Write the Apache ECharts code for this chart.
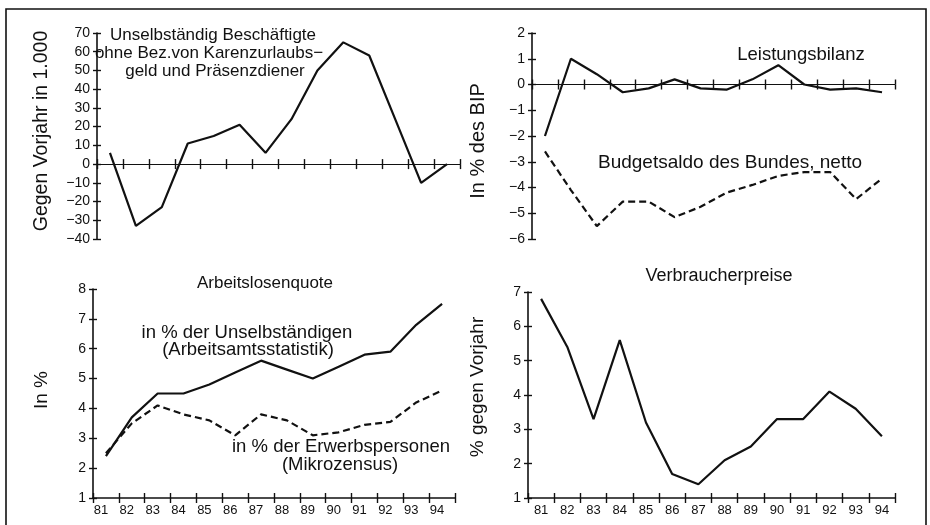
<!DOCTYPE html>
<html>
<head>
<meta charset="utf-8">
<script src="https://cdn.jsdelivr.net/npm/echarts@6/dist/echarts.min.js"></script>
<style>
  html, body { margin: 0; padding: 0; background: #fff; }
  #chart { width: 930px; height: 525px; }
</style>
</head>
<body>
<div id="chart"></div>
<script>
var years = ['81', '82', '83', '84', '85', '86', '87', '88', '89', '90', '91', '92', '93', '94'];

// Unselbständig Beschäftigte, gegen Vorjahr in 1.000
var beschaeftigte = [6, -33, -23, 11, 15, 21, 6, 24, 50, 65, 58, 24, -10, 0];

// in % des BIP
var leistungsbilanz = [-2.0, 1.0, 0.4, -0.3, -0.15, 0.2, -0.15, -0.2, 0.2, 0.75, 0.0, -0.2, -0.15, -0.3];
var budgetsaldo = [-2.6, -4.1, -5.5, -4.55, -4.55, -5.15, -4.75, -4.2, -3.9, -3.55, -3.4, -3.4, -4.45, -3.65];

// Arbeitslosenquote in %
var quoteUnselbst = [2.4, 3.7, 4.5, 4.5, 4.8, 5.2, 5.6, 5.3, 5.0, 5.4, 5.8, 5.9, 6.8, 7.5];
var quoteErwerb = [2.5, 3.5, 4.1, 3.8, 3.6, 3.1, 3.8, 3.6, 3.1, 3.2, 3.45, 3.55, 4.2, 4.6];

// Verbraucherpreise, % gegen Vorjahr
var verbraucherpreise = [6.8, 5.4, 3.3, 5.6, 3.2, 1.7, 1.4, 2.1, 2.5, 3.3, 3.3, 4.1, 3.6, 2.8];

var font = 'Liberation Sans';
var ink = '#111';

var chart = echarts.init(document.getElementById('chart'));

var grids = [
    { left: 97, top: 33, width: 363, height: 206 },
    { left: 532, top: 33, width: 363, height: 206 },
    { left: 93, top: 289, width: 362, height: 209 },
    { left: 528, top: 292, width: 367, height: 206 }
];

var yRanges = [
    { min: -40, max: 70, interval: 10 },
    { min: -6, max: 2, interval: 1 },
    { min: 1, max: 8, interval: 1 },
    { min: 1, max: 7, interval: 1 }
];

function minus(v) {
    return String(v).replace('-', '\u2212');
}

var xAxes = [];
var yAxes = [];
grids.forEach(function (g, i) {
    var showLabels = i >= 2;
    [false, true].forEach(function (inside, k) {
        xAxes.push({
            type: 'category',
            gridIndex: i,
            position: 'bottom',
            data: years,
            boundaryGap: true,
            axisLine: { show: k === 0, onZero: true, lineStyle: { color: ink, width: i < 2 ? 1.2 : 1.6 } },
            axisTick: { show: true, inside: inside, length: 5, interval: 0, lineStyle: { color: ink, width: 1.4 } },
            axisLabel: {
                show: showLabels && k === 0, interval: 0, color: ink, fontFamily: font, fontSize: 13, margin: 6,
                padding: i === 2 ? [0, 10, 0, 0] : 0
            },
            splitLine: { show: false }
        });
    });
    [false, true].forEach(function (inside, k) {
        yAxes.push({
            type: 'value',
            gridIndex: i,
            position: 'left',
            min: yRanges[i].min,
            max: yRanges[i].max,
            interval: yRanges[i].interval,
            axisLine: { show: k === 0, onZero: false, lineStyle: { color: ink, width: 1.6 } },
            axisTick: { show: true, inside: inside, length: 4, lineStyle: { color: ink, width: 1.4 } },
            axisLabel: { show: k === 0, color: ink, fontFamily: font, fontSize: 14, margin: 7, formatter: minus },
            splitLine: { show: false }
        });
    });
});

function line(name, data, grid, dashed) {
    return {
        name: name,
        type: 'line',
        xAxisIndex: grid * 2,
        yAxisIndex: grid * 2,
        data: data,
        symbol: 'none',
        silent: true,
        lineStyle: { color: ink, width: 2.2, type: dashed ? [7, 4] : 'solid' }
    };
}

function txt(x, y, s, size, rot) {
    return {
        type: 'text',
        x: x,
        y: y,
        rotation: rot || 0,
        style: {
            text: s,
            fill: ink,
            font: size + 'px "' + font + '"',
            textAlign: 'center',
            textVerticalAlign: 'middle'
        }
    };
}

var option = {
    animation: false,
    backgroundColor: '#fff',
    grid: grids,
    xAxis: xAxes,
    yAxis: yAxes,
    series: [
        line('Beschäftigte', beschaeftigte, 0, false),
        line('Leistungsbilanz', leistungsbilanz, 1, false),
        line('Budgetsaldo', budgetsaldo, 1, true),
        line('Arbeitsamtsstatistik', quoteUnselbst, 2, false),
        line('Mikrozensus', quoteErwerb, 2, true),
        line('Verbraucherpreise', verbraucherpreise, 3, false)
    ],
    graphic: [
        {
            type: 'polyline',
            shape: { points: [[6, 525], [6, 9], [926, 9], [926, 525]] },
            style: { stroke: ink, lineWidth: 1.6, fill: null }
        },
        txt(42, 131, 'Gegen Vorjahr in 1.000', 19.5, Math.PI / 2),
        txt(478, 141, 'In % des BIP', 20, Math.PI / 2),
        txt(42, 390, 'In %', 19, Math.PI / 2),
        txt(478, 387, '% gegen Vorjahr', 19, Math.PI / 2),
        txt(213, 35, 'Unselbständig Beschäftigte', 17),
        txt(209, 53, 'ohne Bez.von Karenzurlaubs\u2212', 17),
        txt(215, 71, 'geld und Präsenzdiener', 17),
        txt(801, 55, 'Leistungsbilanz', 18.5),
        txt(730, 163, 'Budgetsaldo des Bundes, netto', 19),
        txt(265, 283, 'Arbeitslosenquote', 17),
        txt(247, 333, 'in % der Unselbständigen', 18.5),
        txt(248, 350, '(Arbeitsamtsstatistik)', 18.5),
        txt(341, 447, 'in % der Erwerbspersonen', 18.5),
        txt(340, 465, '(Mikrozensus)', 18.5),
        txt(719, 276, 'Verbraucherpreise', 18)
    ]
};

chart.setOption(option);
</script>
</body>
</html>
